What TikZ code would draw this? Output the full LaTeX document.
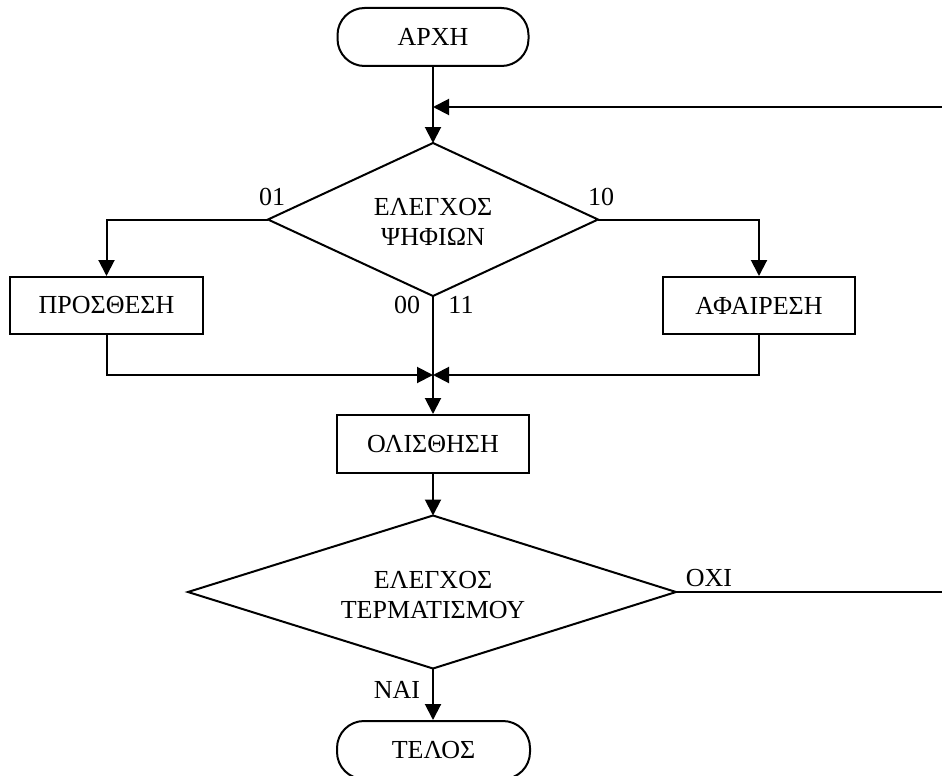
\documentclass[tikz,border=0pt]{standalone}
\usepackage{fontspec}
\setmainfont{Liberation Serif}
\usetikzlibrary{arrows.meta}
\tikzset{
  every node/.style={font=\fontsize{26}{30}\selectfont, align=center},
  box/.style={draw, line width=2pt, rectangle, inner sep=0pt},
  term/.style={draw, line width=2pt, rectangle, rounded corners=27pt, inner sep=0pt},
  dec/.style={line width=2pt},
  flow/.style={line width=2pt, -{Triangle[length=16pt,width=16pt]}},
  plain/.style={line width=2pt},
  lbl/.style={inner sep=0pt}
}
\begin{document}
\begin{tikzpicture}[x=1pt,y=-1pt]
\useasboundingbox (0,0) rectangle (942,776);
\node[term, minimum width=191pt, minimum height=58pt] (start) at (433,37) {ΑΡΧΗ};

% decision 1
\coordinate (d1n) at (433,143);
\coordinate (d1s) at (433,296);
\coordinate (d1w) at (268,219.5);
\coordinate (d1e) at (598,219.5);
\draw[dec] (d1n) -- (d1e) -- (d1s) -- (d1w) -- cycle;
\node (d1) at (433,222) {ΕΛΕΓΧΟΣ\\ΨΗΦΙΩΝ};

\node[box, minimum width=193pt, minimum height=57pt] (add) at (106.5,305.5) {ΠΡΟΣΘΕΣΗ};
\node[box, minimum width=192pt, minimum height=57pt] (sub) at (759,305.5) {ΑΦΑΙΡΕΣΗ};
\node[box, minimum width=192pt, minimum height=58pt] (shift) at (433,444) {ΟΛΙΣΘΗΣΗ};

% decision 2
\coordinate (d2n) at (433,515.5);
\coordinate (d2s) at (433,668.5);
\coordinate (d2w) at (188,592);
\coordinate (d2e) at (676,592);
\draw[dec] (d2n) -- (d2e) -- (d2s) -- (d2w) -- cycle;
\node (d2) at (433,595) {ΕΛΕΓΧΟΣ\\ΤΕΡΜΑΤΙΣΜΟΥ};

\node[term, minimum width=193pt, minimum height=58pt] (end) at (433.5,750) {ΤΕΛΟΣ};

\coordinate (fb) at (942,107);
\coordinate (fbin) at (433,107);
\coordinate (merge) at (433,375);
\coordinate (oxiend) at (942,592);

\draw[flow] (start.south) -- (d1n);
\draw[flow] (fb) -- (fbin);
\draw[flow] (d1w) -| (add.north);
\draw[flow] (d1e) -| (sub.north);
\draw[flow] (d1s) -- (shift.north);
\draw[flow] (add.south) |- (merge);
\draw[flow] (sub.south) |- (merge);
\draw[flow] (shift.south) -- (d2n);
\draw[flow] (d2s) -- (end.north -| d2s);
\draw[plain] (d2e) -- (oxiend);

\node[lbl] (l01) at (272,197) {01};
\node[lbl] (l10) at (601,197) {10};
\node[lbl] (l00) at (407,305) {00};
\node[lbl] (l11) at (461,305) {11};
\node[lbl] (loxi) at (709,578) {ΟΧΙ};
\node[lbl] (lnai) at (397,690) {ΝΑΙ};
\end{tikzpicture}
\end{document}
